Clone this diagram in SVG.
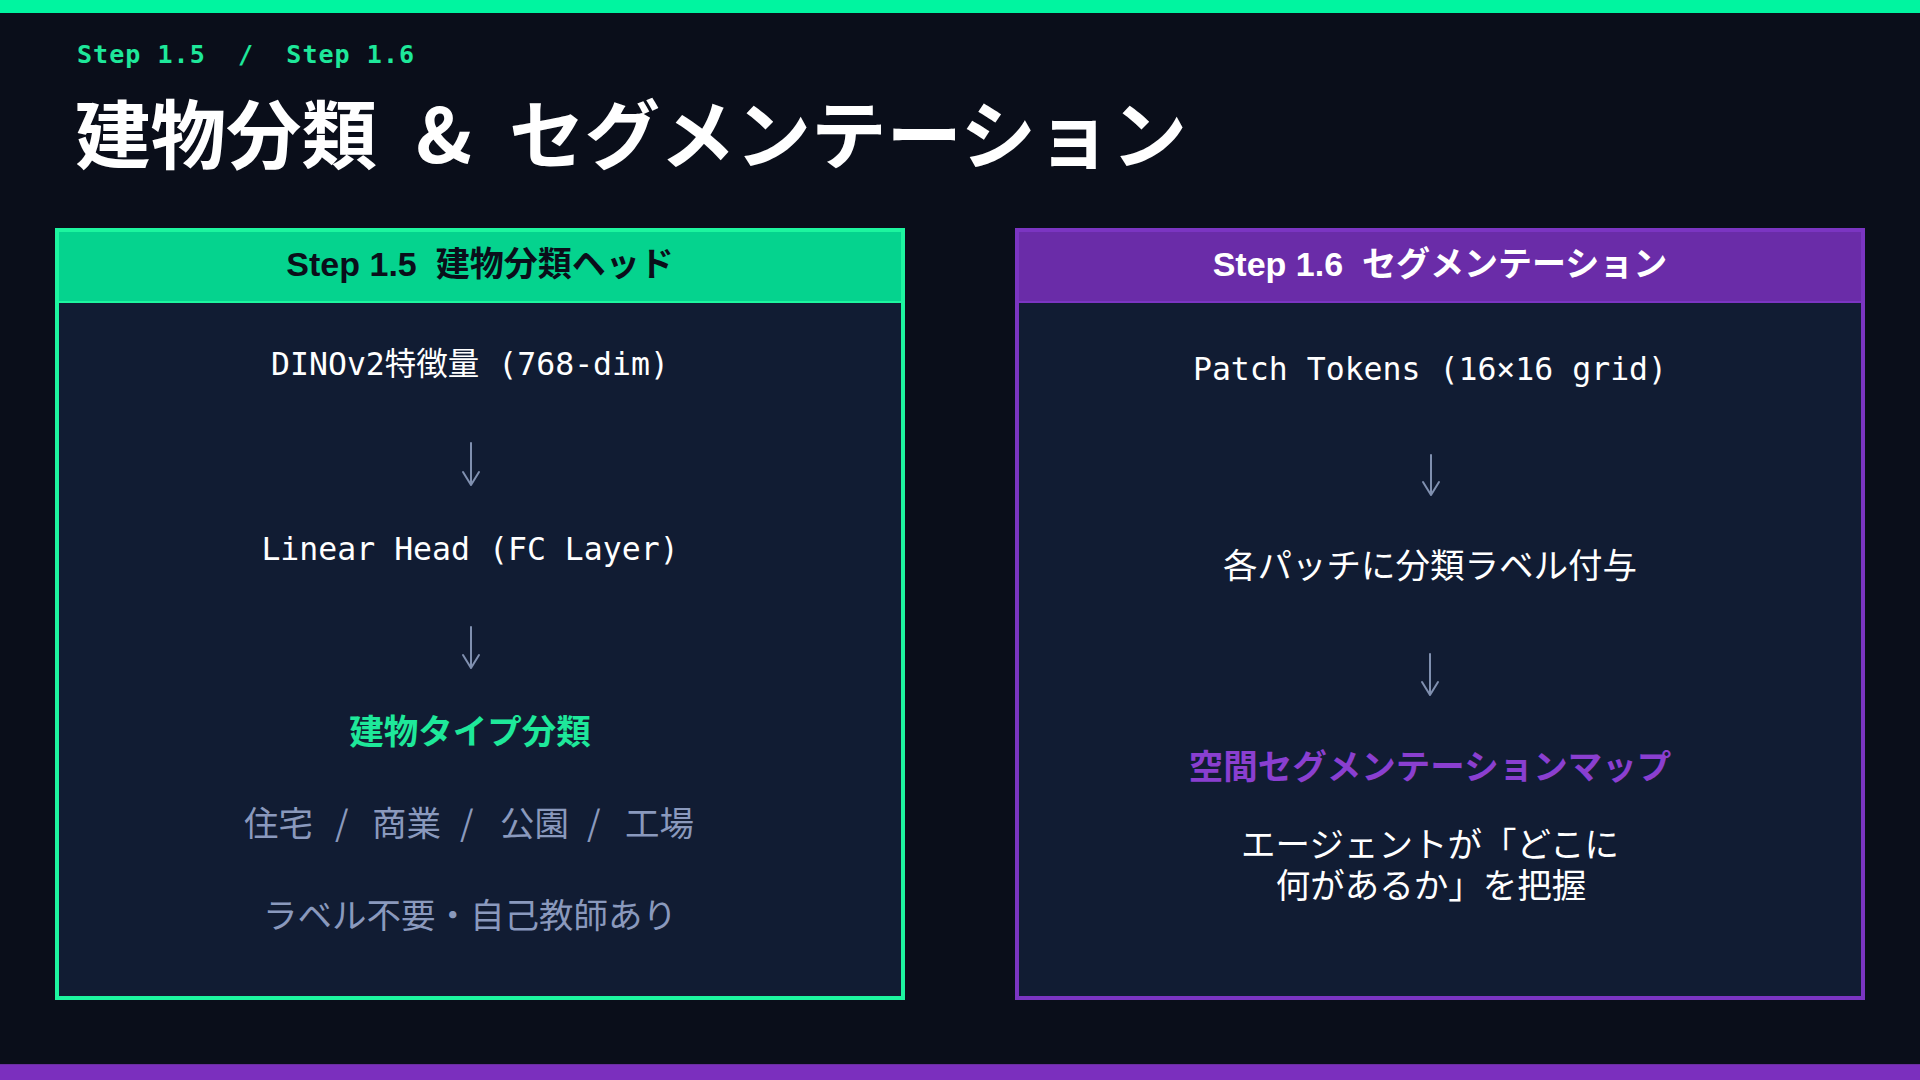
<svg xmlns="http://www.w3.org/2000/svg" width="1920" height="1080" viewBox="0 0 1920 1080">
<style>
.mono{font-family:"DejaVu Sans Mono","Noto Sans CJK JP",monospace;font-size:31.5px;fill:#FFFFFF}
.jp{font-family:"Noto Sans CJK JP",sans-serif;font-size:34.5px}
.hdr{font-family:"Liberation Sans","Noto Sans CJK JP",sans-serif;font-size:34px;font-weight:700;text-anchor:middle}
.mid{text-anchor:middle}
.arrow{stroke:#8090B0;stroke-width:2;fill:none;stroke-linecap:round;stroke-linejoin:round}
</style>
<rect x="0" y="0" width="1920" height="1080" fill="#0A0E1A"/>
<rect x="0" y="0" width="1920" height="13" fill="#00F5A0"/>
<rect x="0" y="1064" width="1920" height="16" fill="#7B2FBE"/>
<rect x="0" y="1064" width="1920" height="1" fill="#6A2FA0"/>

<g id="heading">
<text x="77" y="63" xml:space="preserve" font-family="DejaVu Sans Mono, monospace" font-size="25" font-weight="700" letter-spacing="1.05" fill="#1EE89A">Step 1.5  /  Step 1.6</text>
<text y="163" font-family="Noto Sans CJK JP, sans-serif" font-size="75.5" font-weight="700" fill="#FFFFFF"><tspan x="75">建物分類</tspan><tspan x="416">&amp;</tspan><tspan x="509">セグメンテーション</tspan></text>
</g>

<g id="step15">
<rect x="57" y="230" width="846" height="768" fill="#111C33" stroke="#1DF59F" stroke-width="4"/>
<rect x="59" y="232" width="842" height="70" fill="#05D38E"/>
<rect x="59" y="301" width="842" height="2" fill="#1DF59F"/>
<text class="hdr" x="480" y="276" fill="#0A0E1A" xml:space="preserve">Step 1.5  建物分類ヘッド</text>
<text class="mono mid" x="470" y="375">DINOv2特徴量 (768-dim)</text>
<text class="mono mid" x="470" y="560">Linear Head (FC Layer)</text>
<text class="jp mid" x="470" y="744" font-size="35" font-weight="700" fill="#1EE89A">建物タイプ分類</text>
<text class="jp" y="836" fill="#8A99BD"><tspan x="244">住宅</tspan><tspan x="335">/</tspan><tspan x="372">商業</tspan><tspan x="460">/</tspan><tspan x="500">公園</tspan><tspan x="587">/</tspan><tspan x="625">工場</tspan></text>
<text class="jp mid" x="470" y="928" fill="#8A99BD">ラベル不要・自己教師あり</text>
</g>

<g id="step16">
<rect x="1017" y="230" width="846" height="768" fill="#111C33" stroke="#7B35C2" stroke-width="4"/>
<rect x="1019" y="232" width="842" height="70" fill="#6A2CA8"/>
<rect x="1019" y="301" width="842" height="2" fill="#7B35C2"/>
<text class="hdr" x="1440" y="276" fill="#FFFFFF" xml:space="preserve">Step 1.6  セグメンテーション</text>
<text class="mono mid" x="1430" y="380">Patch Tokens (16×16 grid)</text>
<text class="jp mid" x="1430" y="578" fill="#FFFFFF">各パッチに分類ラベル付与</text>
<text class="jp mid" x="1430" y="779" font-size="35" font-weight="700" fill="#8A3FD0">空間セグメンテーションマップ</text>
<text class="jp mid" fill="#FFFFFF"><tspan x="1430" y="857">エージェントが「どこに</tspan><tspan x="1431" y="898">何があるか」を把握</tspan></text>
</g>

<g id="connectors">
<path class="arrow" d="M471 443V484M463 472L471 485L479 472"/>
<path class="arrow" d="M471 627V667M463 655L471 668L479 655"/>
<path class="arrow" d="M1431 455V494M1423 482L1431 495L1439 482"/>
<path class="arrow" d="M1430 654V694M1422 682L1430 695L1438 682"/>
</g>
</svg>
